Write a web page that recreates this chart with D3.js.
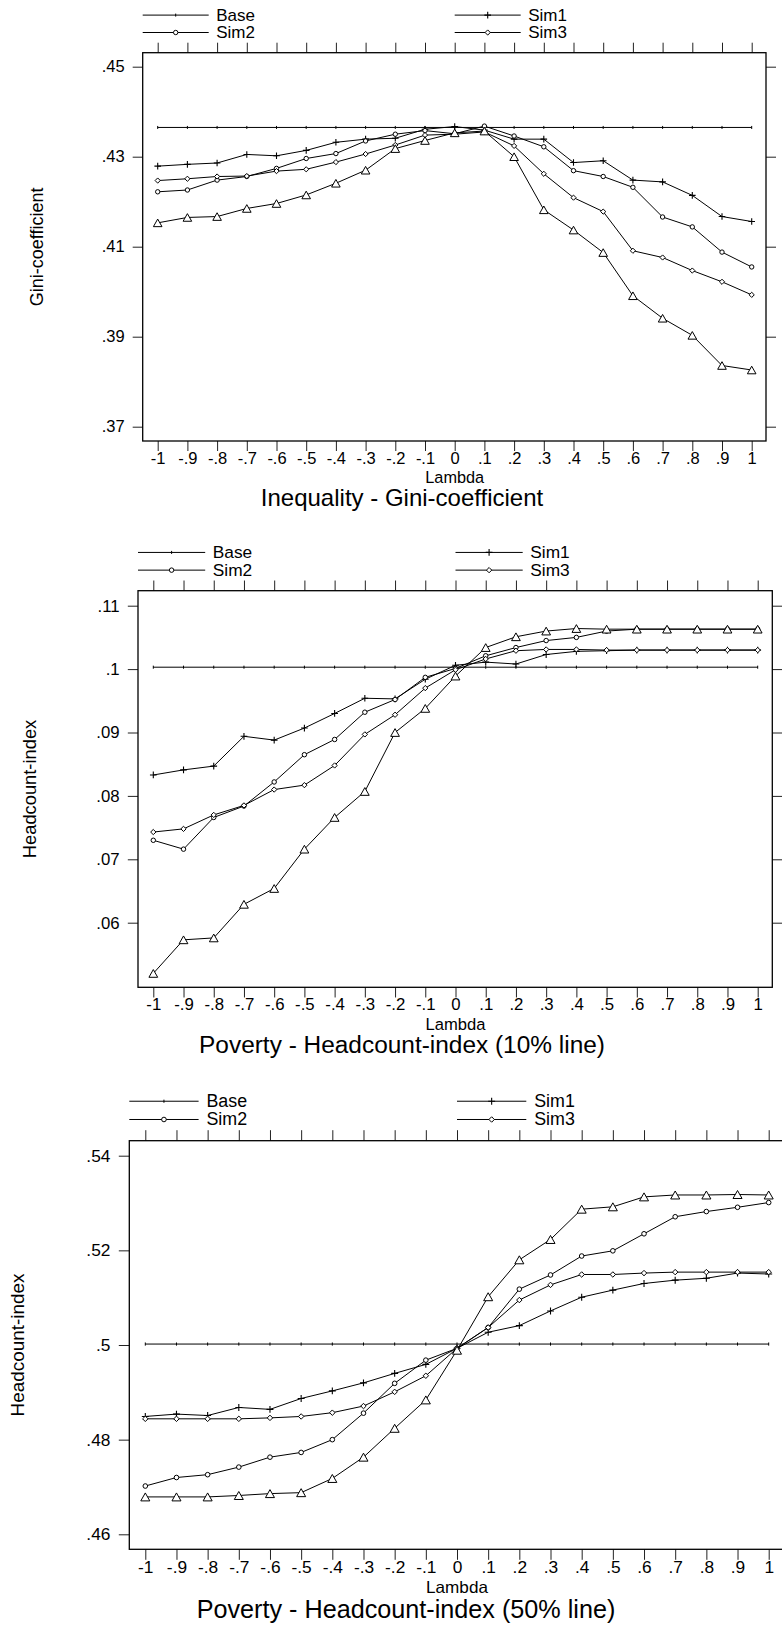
<!DOCTYPE html>
<html>
<head>
<meta charset="utf-8">
<script src="https://cdn.jsdelivr.net/npm/d3@7"></script>
<style>
  html, body { margin: 0; padding: 0; background: #fff; }
  svg { display: block; font-family: "Liberation Sans", Arial, Helvetica, sans-serif; }
</style>
</head>
<body>
<svg id="chart" width="782" height="1627"></svg>
<script>
// ---- categories (x axis) ----
const lambda = [-1, -0.9, -0.8, -0.7, -0.6, -0.5, -0.4, -0.3, -0.2, -0.1, 0,
                0.1, 0.2, 0.3, 0.4, 0.5, 0.6, 0.7, 0.8, 0.9, 1];
const lambdaLabels = ["-1", "-.9", "-.8", "-.7", "-.6", "-.5", "-.4", "-.3", "-.2", "-.1", "0",
                      ".1", ".2", ".3", ".4", ".5", ".6", ".7", ".8", ".9", "1"];
const legendNames = ["Base", "Sim1", "Sim2", "Sim3"];

// ---- Inequality: Gini coefficient ----
const giniBase = [.4365, .4365, .4365, .4365, .4365, .4365, .4365, .4365, .4365, .4365, .4365,
                  .4365, .4365, .4365, .4365, .4365, .4365, .4365, .4365, .4365, .4365];
const giniSim1 = [.4279, .4283, .4286, .4305, .4302, .4314, .4332, .4339, .4341, .4361, .4367,
                  .4359, .4339, .4339, .4287, .4291, .4248, .4244, .4214, .4167, .4156];
const giniSim2 = [.4222, .4226, .4248, .4256, .4274, .4296, .4307, .4335, .4350, .4358, .4351,
                  .4368, .4346, .4322, .4269, .4256, .4232, .4166, .4144, .4088, .4055];
const giniSim3 = [.4247, .4251, .4256, .4257, .4268, .4272, .4288, .4306, .4326, .4348, .4350,
                  .4355, .4324, .4262, .4209, .4178, .4091, .4076, .4047, .4022, .3993];
const giniSim4 = [.4153, .4165, .4167, .4185, .4196, .4215, .4241, .4270, .4318, .4336, .4353,
                  .4357, .4300, .4182, .4137, .4087, .3991, .3941, .3903, .3836, .3826];
const giniTicks = [.37, .39, .41, .43, .45];
const giniTickLabels = [".37", ".39", ".41", ".43", ".45"];

// ---- Poverty: headcount index, 10% line ----
const hc10Base = [.1003, .1003, .1003, .1003, .1003, .1003, .1003, .1003, .1003, .1003, .1003,
                  .1003, .1003, .1003, .1003, .1003, .1003, .1003, .1003, .1003, .1003];
const hc10Sim1 = [.0833, .0841, .0847, .0894, .0888, .0907, .0930, .0954, .0953, .0984, .1006,
                  .1011, .1008, .1023, .1028, .1029, .1030, .1030, .1030, .1030, .1030];
const hc10Sim2 = [.0730, .0716, .0766, .0784, .0822, .0865, .0889, .0932, .0952, .0987, .1001,
                  .1021, .1034, .1045, .1050, .1060, .1063, .1063, .1063, .1063, .1063];
const hc10Sim3 = [.0743, .0748, .0770, .0785, .0810, .0817, .0848, .0897, .0928, .0970, .0999,
                  .1016, .1029, .1031, .1031, .1030, .1030, .1030, .1030, .1030, .1030];
const hc10Sim4 = [.0520, .0573, .0576, .0629, .0654, .0716, .0766, .0807, .0900, .0938, .0989,
                  .1034, .1051, .1060, .1064, .1063, .1063, .1063, .1063, .1063, .1063];
const hc10Ticks = [.06, .07, .08, .09, .10, .11];
const hc10TickLabels = [".06", ".07", ".08", ".09", ".1", ".11"];

// ---- Poverty: headcount index, 50% line ----
const hc50Base = [.5002, .5002, .5002, .5002, .5002, .5002, .5002, .5002, .5002, .5002, .5002,
                  .5002, .5002, .5002, .5002, .5002, .5002, .5002, .5002, .5002, .5002];
const hc50Sim1 = [.4849, .4854, .4851, .4868, .4864, .4887, .4903, .4920, .4940, .4959, .4993,
                  .5027, .5041, .5072, .5101, .5116, .5130, .5137, .5141, .5152, .5150];
const hc50Sim2 = [.4702, .4720, .4726, .4742, .4763, .4773, .4800, .4856, .4919, .4968, .4993,
                  .5037, .5118, .5148, .5188, .5199, .5235, .5271, .5282, .5291, .5301];
const hc50Sim3 = [.4844, .4844, .4844, .4844, .4846, .4849, .4857, .4871, .4901, .4935, .4993,
                  .5037, .5095, .5127, .5149, .5149, .5152, .5154, .5154, .5154, .5154];
const hc50Sim4 = [.4679, .4679, .4679, .4682, .4686, .4688, .4718, .4763, .4824, .4884, .4989,
                  .5102, .5180, .5223, .5287, .5292, .5313, .5317, .5317, .5318, .5317];
const hc50Ticks = [.46, .48, .50, .52, .54];
const hc50TickLabels = [".46", ".48", ".5", ".52", ".54"];

// marker symbol for each series, in drawing order
const markerTypes = ["dot", "plus", "circle", "diamond", "triangle"];

// ---- panel geometry ----
const panels = [
  {
    series: [giniBase, giniSim1, giniSim2, giniSim3, giniSim4],
    ticks: giniTicks, tickLabels: giniTickLabels,
    yTitle: "Gini-coefficient", title: "Inequality - Gini-coefficient",
    yDomain: [.37, .45], yRange: [426.7, 66.7],
    xRange: [157.7, 751.7],
    box: { left: 142.7, right: 766, top: 52.7, bottom: 441 },
    s: 1.0, titleX: 402
  },
  {
    series: [hc10Base, hc10Sim1, hc10Sim2, hc10Sim3, hc10Sim4],
    ticks: hc10Ticks, tickLabels: hc10TickLabels,
    yTitle: "Headcount-index", title: "Poverty - Headcount-index (10% line)",
    yDomain: [.06, .11], yRange: [922.7, 605.7],
    xRange: [153.3, 757.7],
    box: { left: 138, right: 772.3, top: 590.7, bottom: 987.3 },
    s: 1.018, titleX: 402
  },
  {
    series: [hc50Base, hc50Sim1, hc50Sim2, hc50Sim3, hc50Sim4],
    ticks: hc50Ticks, tickLabels: hc50TickLabels,
    yTitle: "Headcount-index", title: "Poverty - Headcount-index (50% line)",
    yDomain: [.46, .54], yRange: [1534.3, 1155.7],
    xRange: [145.3, 768.7],
    box: { left: 129.3, right: 785, top: 1140.7, bottom: 1549.3 },
    s: 1.05, titleX: 406
  }
];

const svg = d3.select("#chart");

function drawMarker(g, type, cx, cy, s) {
  if (type === "dot") {
    g.append("line").attr("x1", cx).attr("x2", cx).attr("y1", cy - 1.5 * s).attr("y2", cy + 1.5 * s)
      .attr("stroke", "#000").attr("stroke-width", 1);
  } else if (type === "plus") {
    const a = 3.3 * s;
    g.append("path").attr("d", `M${cx - a},${cy}H${cx + a}M${cx},${cy - a}V${cy + a}`)
      .attr("stroke", "#000").attr("stroke-width", 1.1).attr("fill", "none");
  } else if (type === "circle") {
    g.append("circle").attr("cx", cx).attr("cy", cy).attr("r", 2.2 * s)
      .attr("fill", "#fff").attr("stroke", "#000").attr("stroke-width", 1);
  } else if (type === "diamond") {
    const a = 2.6 * s;
    g.append("path").attr("d", `M${cx},${cy - a}L${cx + a},${cy}L${cx},${cy + a}L${cx - a},${cy}Z`)
      .attr("fill", "#fff").attr("stroke", "#000").attr("stroke-width", 1);
  } else if (type === "triangle") {
    const w = 4.3 * s, h = 3.8 * s;
    g.append("path").attr("d", `M${cx},${cy - h}L${cx + w},${cy + h}L${cx - w},${cy + h}Z`)
      .attr("fill", "#fff").attr("stroke", "#000").attr("stroke-width", 1);
  }
}

panels.forEach(p => {
  const s = p.s, b = p.box;
  const g = svg.append("g");
  const x = d3.scaleLinear().domain([-1, 1]).range(p.xRange);
  const y = d3.scaleLinear().domain(p.yDomain).range(p.yRange);
  const tickLen = 10 * s;

  // bottom axis with labels
  const axB = g.append("g").attr("transform", `translate(0,${b.bottom})`)
    .call(d3.axisBottom(x).tickValues(lambda).tickFormat((d, i) => lambdaLabels[i]).tickSize(tickLen));
  axB.selectAll("text").attr("y", 22.5 * s).attr("dy", 0)
    .attr("font-size", 16.5 * s).attr("fill", "#000").attr("font-family", null);

  // top axis (ticks only)
  g.append("g").attr("transform", `translate(0,${b.top})`)
    .call(d3.axisTop(x).tickValues(lambda).tickFormat("").tickSize(tickLen));

  // left axis with labels
  const axL = g.append("g").attr("transform", `translate(${b.left},0)`)
    .call(d3.axisLeft(y).tickValues(p.ticks).tickFormat((d, i) => p.tickLabels[i])
      .tickSize(tickLen).tickPadding(8 * s));
  axL.selectAll("text").attr("font-size", 16.5 * s).attr("fill", "#000").attr("font-family", null);

  // right axis (ticks only)
  g.append("g").attr("transform", `translate(${b.right},0)`)
    .call(d3.axisRight(y).tickValues(p.ticks).tickFormat("").tickSize(tickLen));

  g.selectAll(".domain").remove();
  g.selectAll(".tick line").attr("stroke", "#222").attr("stroke-width", 1);

  // plot frame
  g.append("rect").attr("x", b.left).attr("y", b.top)
    .attr("width", b.right - b.left).attr("height", b.bottom - b.top)
    .attr("fill", "none").attr("stroke", "#000").attr("stroke-width", 1.3);

  // series lines and markers
  const line = d3.line().x((d, i) => x(lambda[i])).y(d => y(d));
  p.series.forEach((vals, k) => {
    const sg = g.append("g");
    sg.append("path").datum(vals).attr("d", line)
      .attr("fill", "none").attr("stroke", "#000").attr("stroke-width", 1);
    vals.forEach((v, i) => drawMarker(sg, markerTypes[k], x(lambda[i]), y(v), s));
  });

  // legend: two columns, two rows
  const rows = [b.top - 37.6 * s, b.top - 20.2 * s];
  const cols = [b.left, x(0)];
  legendNames.forEach((name, k) => {
    const cx0 = cols[k % 2], cy = rows[Math.floor(k / 2)];
    const len = 66 * s;
    const lg = g.append("g");
    lg.append("line").attr("x1", cx0).attr("x2", cx0 + len).attr("y1", cy).attr("y2", cy)
      .attr("stroke", "#000").attr("stroke-width", 1);
    drawMarker(lg, markerTypes[k], cx0 + len / 2, cy, s);
    lg.append("text").attr("x", cx0 + len + 7.5 * s).attr("y", cy + 5.6 * s)
      .attr("font-size", 17 * s).attr("fill", "#000").text(name);
  });

  // axis titles
  g.append("text").attr("x", x(0)).attr("y", b.bottom + 41.5 * s)
    .attr("text-anchor", "middle").attr("font-size", 16.3 * s).text("Lambda");
  const ymid = (b.top + b.bottom) / 2;
  g.append("text")
    .attr("transform", `translate(${b.left - 100 * s},${ymid}) rotate(-90)`)
    .attr("text-anchor", "middle").attr("font-size", 18 * s).text(p.yTitle);

  // panel title
  g.append("text").attr("x", p.titleX).attr("y", b.bottom + 65 * s)
    .attr("text-anchor", "middle").attr("font-size", 24 * s).text(p.title);
});
</script>
</body>
</html>
